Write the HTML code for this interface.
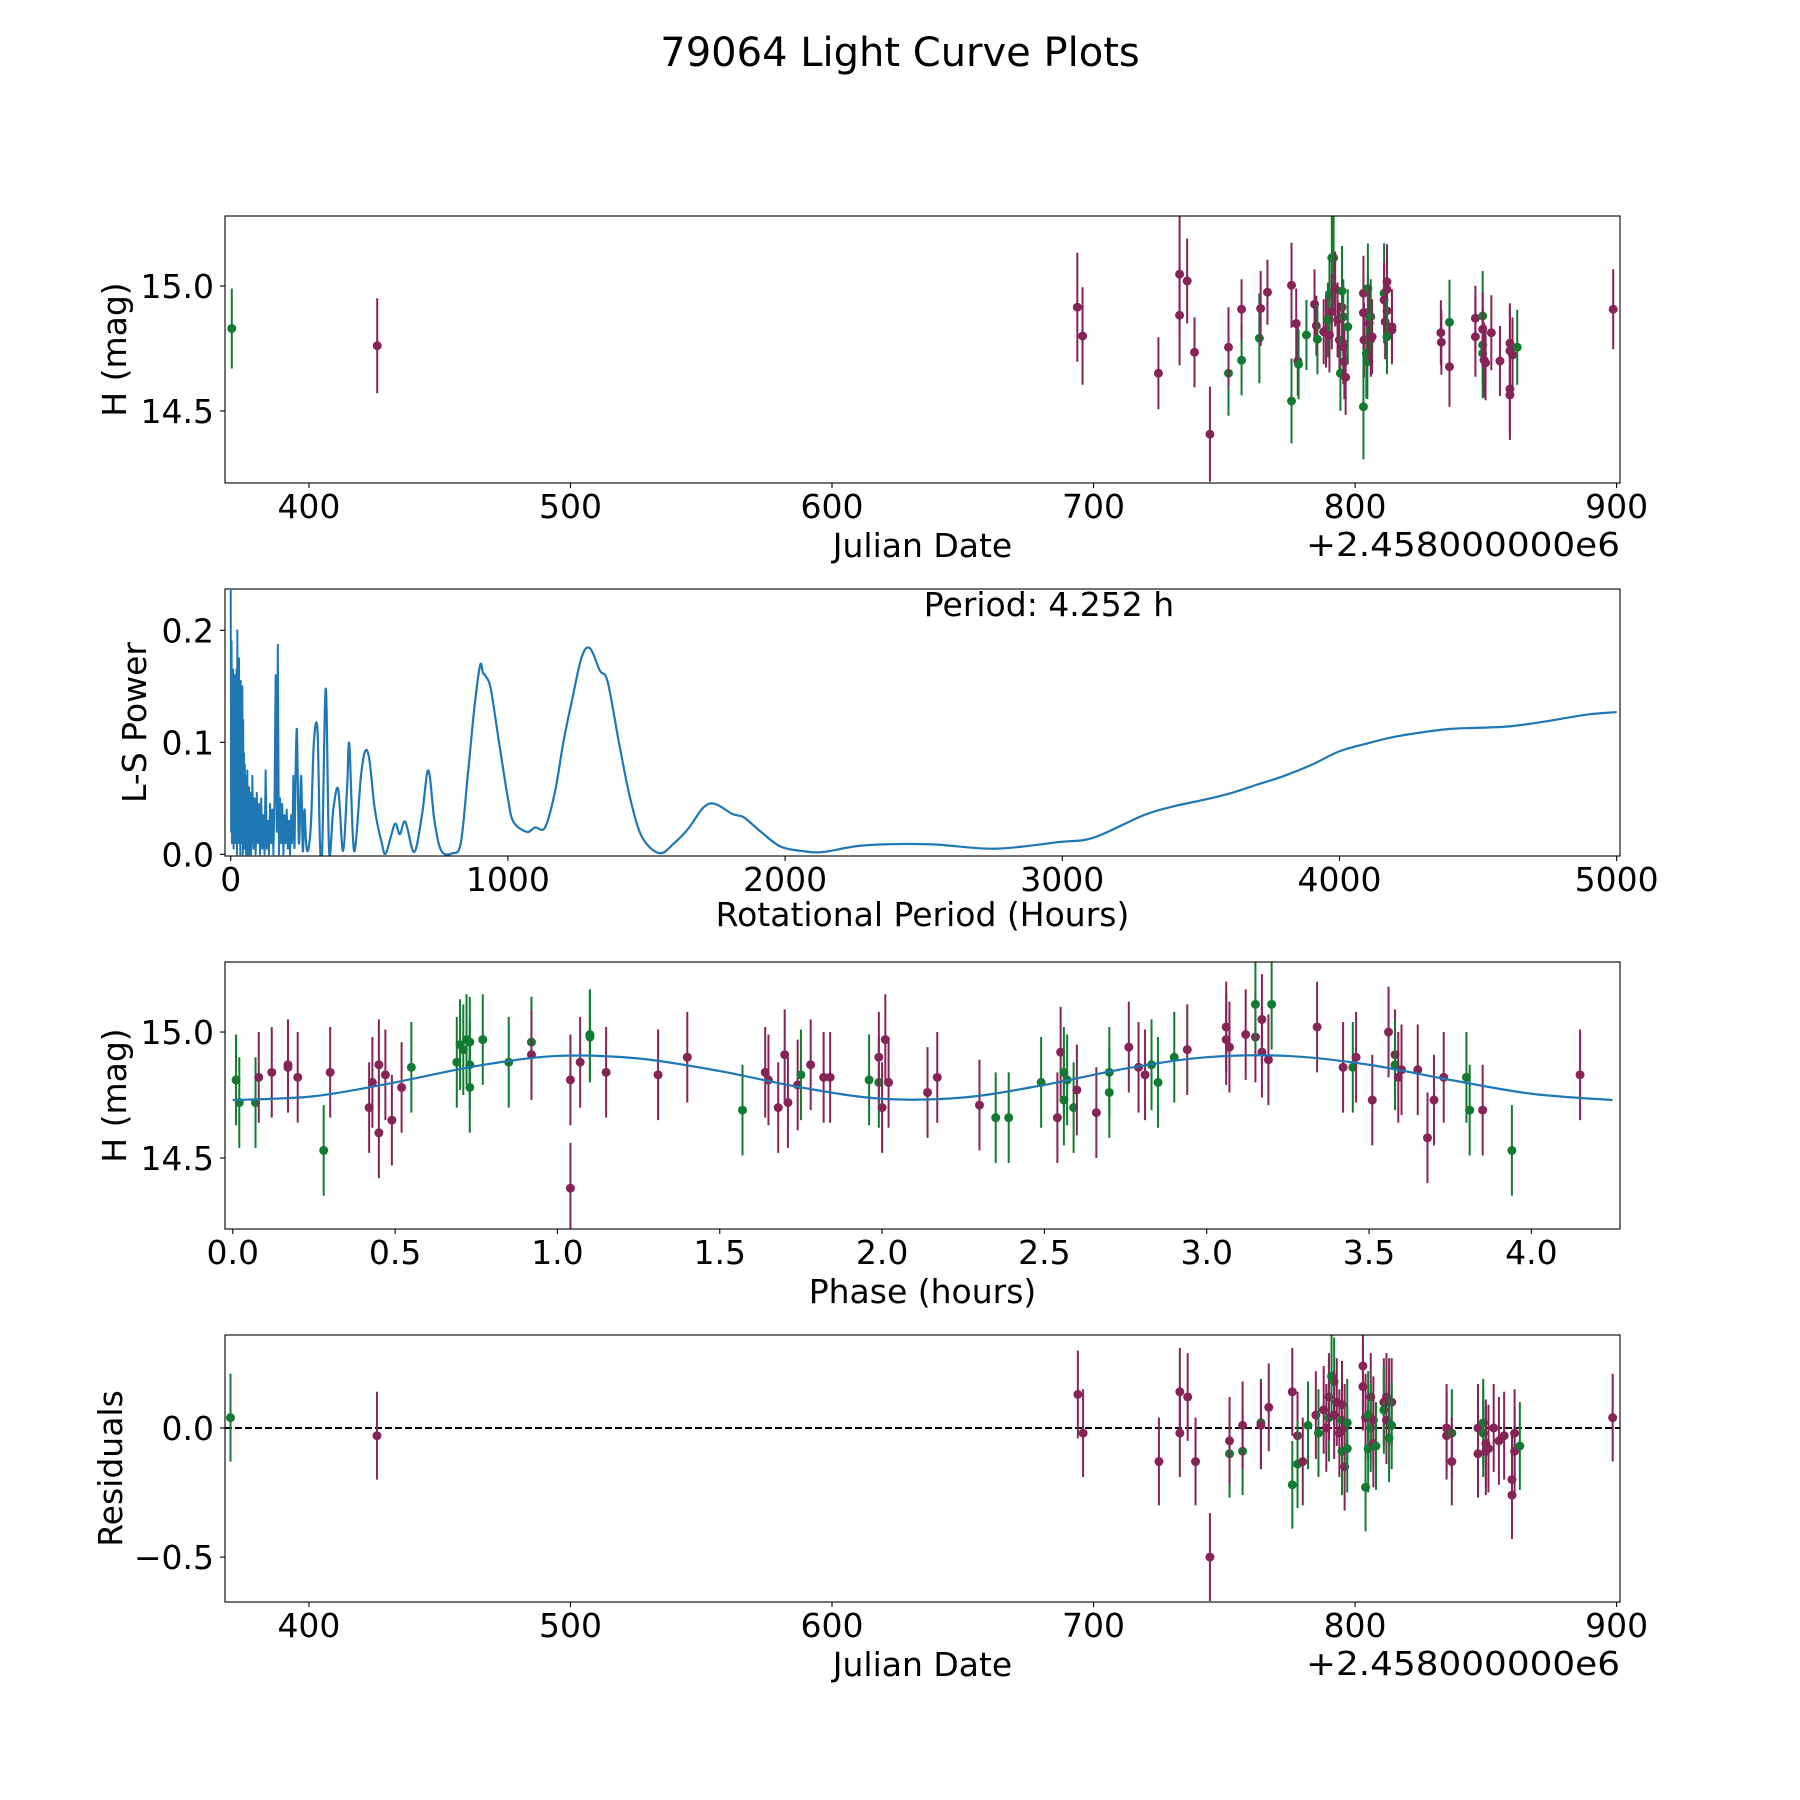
<!DOCTYPE html>
<html><head><meta charset="utf-8">
<style>
html,body{margin:0;padding:0;background:#fff}
svg{display:block}
text{font-family:"DejaVu Sans","Liberation Sans",sans-serif;fill:#000}
</style></head>
<body>
<svg id="fig" width="1800" height="1800" viewBox="0 0 1800 1800" xmlns="http://www.w3.org/2000/svg">
<rect width="1800" height="1800" fill="#fff"/>
<text x="900" y="66" font-size="40" text-anchor="middle">79064 Light Curve Plots</text>
<g id="p1"></g>
<g id="p2"></g>
<g id="p3"></g>
<g id="p4"></g>
</svg>
<script>
// ---------- Panel 1: light curve ----------
const lcDates=[370.5,426.1,693.8,695.8,724.8,732.9,732.9,735.8,738.6,744.5,751.6,751.6,756.6,756.6,763.4,763.9,766.5,775.7,775.7,777.5,778.1,778.4,781.4,784.5,785.2,785.6,788.0,788.9,789.6,790.2,790.2,791.1,791.8,791.1,792.4,793.3,794.0,794.4,795.0,795.0,795.5,795.5,795.9,796.4,797.2,803.2,803.2,803.4,803.2,804.3,804.7,804.9,804.9,805.4,806.0,806.0,806.5,811.1,811.1,812.2,812.2,812.2,811.5,812.2,814.1,814.1,832.8,833.0,836.1,836.1,846.0,846.0,848.8,848.8,848.8,848.8,849.3,849.9,852.1,855.4,859.2,859.2,859.2,859.2,860.2,862.0,898.7];
const lcMags=[14.83,14.761,14.915,14.80,14.651,15.047,14.883,15.02,14.735,14.407,14.651,14.755,14.703,14.907,14.791,14.91,14.975,15.003,14.54,14.85,14.70,14.687,14.804,14.927,14.841,14.787,14.817,14.824,14.864,14.804,14.968,15.113,15.113,14.897,14.988,14.864,14.784,14.651,14.915,14.98,14.877,14.757,14.697,14.635,14.837,14.971,14.893,14.784,14.517,14.731,14.697,14.891,14.99,14.851,14.787,14.877,14.797,14.971,14.944,15.017,14.987,14.901,14.857,14.797,14.837,14.824,14.813,14.775,14.855,14.677,14.871,14.797,14.88,14.764,14.731,14.827,14.704,14.693,14.813,14.70,14.771,14.741,14.588,14.564,14.724,14.755,14.907];
const lcErrs=[0.16,0.19,0.218,0.195,0.144,0.245,0.2,0.17,0.14,0.19,0.17,0.16,0.14,0.12,0.18,0.15,0.13,0.17,0.17,0.14,0.14,0.14,0.14,0.14,0.12,0.14,0.13,0.15,0.15,0.15,0.15,0.26,0.2,0.15,0.15,0.15,0.15,0.15,0.15,0.18,0.15,0.15,0.15,0.15,0.15,0.15,0.15,0.15,0.21,0.18,0.15,0.15,0.18,0.15,0.15,0.15,0.15,0.2,0.15,0.15,0.15,0.15,0.15,0.15,0.15,0.12,0.13,0.13,0.17,0.16,0.13,0.16,0.18,0.15,0.18,0.15,0.15,0.15,0.15,0.14,0.16,0.18,0.18,0.18,0.15,0.15,0.16];
const lcBands=["g","m","m","m","m","m","m","m","m","m","g","m","g","m","g","m","m","m","g","m","m","g","g","m","m","g","m","m","g","m","g","g","g","m","m","m","m","g","m","g","g","m","m","m","g","m","m","m","g","g","g","m","g","m","m","g","m","g","m","m","m","m","m","g","m","m","m","m","g","m","m","m","g","g","g","m","m","m","m","m","m","m","m","m","m","g","m"];
const lcXTicks=[400,500,600,700,800,900];
const lcYTicks=[14.5,15.0];
const lcYTickLabels=["14.5","15.0"];

// ---------- Panel 2: periodogram ----------
const lsPeriodsDense=[0,1.5,3,4.5,6,7.5,9,10.5,12,13.5,15,16.5,18,19.5,21,22.5,24,25.5,27,28.5,30,31.5,33,34.5,36,37.5,39,40.5,42,43.5,45,46.5,48,49.5,51,52.5,54,55.5,57,58.5,60,61.5,63,64.5,66,67.5,69,70.5,72,73.5,75,76.5,78];
const lsPowersDense=[0.236,0.02,0.19,0.01,0.16,0.03,0.165,0.005,0.16,0.04,0.155,0.01,0.16,0.02,0.165,0.0,0.2,0.03,0.15,0.01,0.175,0.02,0.145,0.0,0.155,0.03,0.13,0.01,0.15,0.0,0.12,0.02,0.09,0.005,0.08,0.02,0.07,0.0,0.06,0.01,0.075,0.0,0.05,0.015,0.06,0.0,0.045,0.01,0.055,0.0,0.04,0.01,0.07];
const lsPeriodsMid=[82,86,90,94,98,102,106,110,114,118,122,126,130,134,138,142,146,150,154,158,162,166,170,174,178,182,186,190,194,198,202,206,210,214,218,222,226,230];
const lsPowersMid=[0.005,0.05,0.0,0.055,0.01,0.045,0.0,0.05,0.005,0.035,0.0,0.075,0.005,0.03,0.0,0.045,0.01,0.04,0.0,0.05,0.16,0.02,0.187,0.0,0.05,0.01,0.045,0.0,0.035,0.01,0.04,0.005,0.03,0.0,0.035,0.01,0.07,0.005];
const lsPeriodsSmooth=[238,246,254,260,266,272,280,290,300,313,322,330,343,355,370,388,405,420,428,445,470,485,500,520,545,560,592,610,630,662,690,713,735,760,800,830,855,880,900,910,920,938,968,1000,1020,1068,1098,1134,1170,1200,1230,1266,1296,1332,1360,1402,1443,1485,1547,1600,1651,1706,1748,1810,1851,1913,1983,2060,2134,2286,2520,2755,2990,3114,3294,3404,3498,3600,3700,3800,3900,4000,4100,4200,4300,4400,4500,4600,4700,4800,4900,5000];
const lsPowersSmooth=[0.112,0.01,0.07,0.003,0.04,0.01,0.004,0.03,0.1,0.111,0.01,0.004,0.148,0.003,0.04,0.058,0.003,0.06,0.098,0.003,0.07,0.092,0.085,0.04,0.01,0.001,0.027,0.018,0.029,0.002,0.035,0.075,0.03,0.003,0.001,0.01,0.07,0.133,0.169,0.162,0.159,0.148,0.1,0.05,0.029,0.02,0.024,0.024,0.056,0.1,0.136,0.176,0.184,0.164,0.154,0.098,0.048,0.015,0.001,0.01,0.023,0.042,0.045,0.036,0.033,0.02,0.007,0.003,0.002,0.008,0.009,0.005,0.011,0.015,0.035,0.043,0.048,0.054,0.062,0.07,0.08,0.092,0.099,0.105,0.109,0.112,0.113,0.114,0.117,0.121,0.125,0.127];
const lsXTicks=[0,1000,2000,3000,4000,5000];
const lsYTicks=[0,0.1,0.2];
const lsYTickLabels=["0.0","0.1","0.2"];

// ---------- Panel 3: phase folded ----------
const phPhases=[0.01,0.02,0.07,0.08,0.12,0.17,0.17,0.2,0.28,0.3,0.42,0.43,0.45,0.45,0.47,0.49,0.52,0.55,0.69,0.7,0.71,0.72,0.73,0.73,0.73,0.77,0.85,0.92,0.92,1.04,1.04,1.07,1.1,1.1,1.15,1.31,1.4,1.57,1.64,1.65,1.68,1.7,1.71,1.74,1.75,1.78,1.82,1.84,1.96,1.99,1.99,2.0,2.01,2.02,2.14,2.17,2.3,2.35,2.39,2.49,2.54,2.55,2.56,2.56,2.57,2.59,2.6,2.66,2.7,2.7,2.76,2.79,2.81,2.83,2.85,2.9,2.94,3.06,3.06,3.07,3.12,3.15,3.15,3.17,3.17,3.19,3.2,3.34,3.42,3.45,3.46,3.51,3.56,3.58,3.58,3.59,3.6,3.65,3.68,3.7,3.73,3.8,3.81,3.85,3.94,4.15];
const phMags=[14.81,14.72,14.72,14.82,14.84,14.86,14.87,14.82,14.53,14.84,14.7,14.8,14.6,14.87,14.83,14.65,14.78,14.86,14.88,14.95,14.93,14.97,14.78,14.87,14.96,14.97,14.88,14.96,14.91,14.81,14.38,14.88,14.99,14.98,14.84,14.83,14.9,14.69,14.84,14.81,14.7,14.91,14.72,14.79,14.83,14.87,14.82,14.82,14.81,14.8,14.9,14.7,14.97,14.8,14.76,14.82,14.71,14.66,14.66,14.8,14.66,14.92,14.73,14.84,14.81,14.7,14.77,14.68,14.84,14.76,14.94,14.86,14.83,14.87,14.8,14.9,14.93,15.02,14.97,14.94,14.99,14.98,15.11,15.05,14.92,14.89,15.11,15.02,14.86,14.86,14.9,14.73,15.0,14.91,14.87,14.82,14.85,14.85,14.58,14.73,14.82,14.82,14.69,14.69,14.53,14.83];
const phBands=["g","g","g","m","m","m","m","m","g","m","m","m","m","m","m","m","m","g","g","g","g","g","g","g","g","g","g","g","m","m","m","m","g","g","m","m","m","g","m","m","m","m","m","m","g","m","m","m","g","g","m","m","m","m","m","m","m","g","g","g","m","m","g","g","g","g","m","m","g","g","m","m","m","g","g","g","m","m","m","m","m","m","g","m","m","m","g","m","m","g","m","m","m","m","g","m","m","m","m","m","m","g","g","m","g","m"];
const phErr=0.18;
const fitPhases=[0,0.25,0.5,0.75,1.0,1.25,1.5,1.75,2.0,2.25,2.5,2.75,3.0,3.25,3.5,3.75,4.0,4.25];
const fitMags=[14.73,14.745,14.80,14.865,14.905,14.895,14.845,14.78,14.735,14.74,14.79,14.855,14.9,14.905,14.87,14.81,14.755,14.73];
const phXTicks=[0,0.5,1.0,1.5,2.0,2.5,3.0,3.5,4.0];
const phXTickLabels=["0.0","0.5","1.0","1.5","2.0","2.5","3.0","3.5","4.0"];

// ---------- Panel 4: residuals ----------
const resDates=[370,426,694,696,725,733,733,736,739,744.5,752,752,757,757,764,764,767,776,776,778,778,780,782,785,786,788,789,790,790,791,792,792,793,794,795,795,795,796,796,797,797,803,803,804,804,805,805,806,806,807,807,808,811,811,812,812,813,814,813,814,835,835,837,837,847,847,849,849,850,850,851,853,855,857,860,860,861,861,863,898.5];
const resVals=[0.04,-0.03,0.13,-0.02,-0.13,0.14,-0.02,0.12,-0.13,-0.5,-0.1,-0.05,-0.09,0.01,0.02,0.01,0.08,0.14,-0.22,-0.03,-0.14,-0.13,0.01,0.05,-0.02,0.07,0.0,0.04,0.12,0.2,0.18,0.05,0.1,-0.02,0.03,-0.09,0.09,-0.15,0.0,0.02,-0.08,0.24,0.16,0.04,-0.23,0.05,-0.08,0.12,0.0,-0.06,0.03,-0.07,0.1,0.07,0.12,0.03,0.1,0.1,-0.04,0.01,-0.03,0.0,-0.02,-0.13,0.0,-0.1,0.02,-0.02,-0.06,-0.09,-0.08,0.0,-0.05,-0.03,-0.2,-0.26,-0.09,-0.02,-0.07,0.04];
const resBands=["g","m","m","m","m","m","m","m","m","m","g","m","g","m","g","m","m","m","g","m","g","m","g","m","g","m","m","g","m","g","g","m","m","m","g","g","m","m","m","g","g","m","m","m","g","g","g","m","g","m","m","g","m","g","m","m","m","m","g","g","m","m","g","m","m","m","g","g","m","m","m","m","m","m","m","m","m","m","g","m"];
const resErr=0.17;
const resYTicks=[-0.5,0.0];
const resYTickLabels=["\u22120.5","0.0"];

const NS="http://www.w3.org/2000/svg";
const COL={m:"#862457",g:"#137a31"};
function mk(parent,tag,attrs){const e=document.createElementNS(NS,tag);for(const k in attrs)e.setAttribute(k,attrs[k]);parent.appendChild(e);return e;}
const L=225,R=1620;
function axes(x0,x1,y0,y1,top,bottom){
  return {sx:v=>L+(v-x0)/(x1-x0)*(R-L), sy:v=>bottom-(v-y0)/(y1-y0)*(bottom-top), top, bottom};
}
function smoothPath(P){
  let d='M'+P[0][0].toFixed(2)+','+P[0][1].toFixed(2);
  for(let i=0;i<P.length-1;i++){
    const p0=P[Math.max(0,i-1)],p1=P[i],p2=P[i+1],p3=P[Math.min(P.length-1,i+2)];
    const c1=[p1[0]+(p2[0]-p0[0])/6,p1[1]+(p2[1]-p0[1])/6];
    const c2=[p2[0]-(p3[0]-p1[0])/6,p2[1]-(p3[1]-p1[1])/6];
    d+=`C${c1[0].toFixed(2)},${c1[1].toFixed(2)} ${c2[0].toFixed(2)},${c2[1].toFixed(2)} ${p2[0].toFixed(2)},${p2[1].toFixed(2)}`;
  }
  return d;
}
function frame(g,a,xt,xtl,yt,ytl,xlabel,ylabel,ylabelX,xlabOff){
  const f=mk(g,'rect',{x:L,y:a.top,width:R-L,height:a.bottom-a.top,fill:'none',stroke:'#000','stroke-width':1.1});
  
  
  xt.forEach((v,i)=>{
    const x=a.sx(v);
    const t=mk(g,'line',{x1:x,x2:x,y1:a.bottom,y2:a.bottom+5,stroke:'#000','stroke-width':1.1});
    
    
    const l=mk(g,'text',{x:x,y:a.bottom+35,'font-size':33,'text-anchor':'middle'});
    l.textContent=xtl[i];
    
    
  });
  yt.forEach((v,i)=>{
    const y=a.sy(v);
    const t=mk(g,'line',{x1:L-5,x2:L,y1:y,y2:y,stroke:'#000','stroke-width':1.1});
    
    
    const l=mk(g,'text',{x:L-11,y:y+12,'font-size':33,'text-anchor':'end'});
    l.textContent=ytl[i];
    
    
  });
  const xl=mk(g,'text',{x:(L+R)/2,y:a.bottom+xlabOff,'font-size':33,'text-anchor':'middle'});
  xl.textContent=xlabel;
  
  
  const cy=(a.top+a.bottom)/2;
  const yl=mk(g,'text',{x:ylabelX,y:cy,'font-size':33,'text-anchor':'middle',transform:`rotate(-90 ${ylabelX} ${cy})`});
  yl.textContent=ylabel;
  
  
}
function offsetText(g,a){
  const t=mk(g,'text',{x:R-314,y:a.bottom+73,'font-size':33,textLength:314,lengthAdjust:'spacingAndGlyphs'});
  t.textContent="+2.458000000e6";
  
  
}
function points(g,a,xs,ys,errs,bands){
  xs.forEach((xv,i)=>{
    const e=Array.isArray(errs)?errs[i]:errs;
    const c=COL[bands[i]];
    const x=a.sx(xv);
    const y1=Math.max(a.top,a.sy(ys[i]+e)), y2=Math.min(a.bottom,a.sy(ys[i]-e));
    const eb=mk(g,'line',{x1:x,x2:x,y1:y1,y2:y2,stroke:c,'stroke-width':2});
    
    
    const d=mk(g,'circle',{cx:x,cy:a.sy(ys[i]),r:4.5,fill:c});
    
    
  });
}
function clip(id,a){
  const svg=document.getElementById('fig');
  let defs=svg.querySelector('defs'); if(!defs){defs=document.createElementNS(NS,'defs');svg.insertBefore(defs,svg.firstChild);}
  const cp=mk(defs,'clipPath',{id:id});
  mk(cp,'rect',{x:L,y:a.top,width:R-L,height:a.bottom-a.top});
  return 'url(#'+id+')';
}

// Panel 1
(function(){
  const g=document.getElementById('p1');
  const a=axes(367.9,901.3,14.212,15.28,216,483);
  const pg=mk(g,'g',{'clip-path':clip('c1',a)});
  
  
  points(pg,a,lcDates,lcMags,lcErrs,lcBands);
  frame(g,a,lcXTicks,lcXTicks.map(String),lcYTicks,lcYTickLabels,"Julian Date","H (mag)",126,74);
  offsetText(g,a);
})();
// Panel 2
(function(){
  const g=document.getElementById('p2');
  const a=axes(-20.6,5012,-0.0015,0.2369,589,856);
  const cp=clip('c2',a);
  const P1=lsPeriodsDense.concat(lsPeriodsMid).map((p,i)=>[a.sx(p),a.sy(lsPowersDense.concat(lsPowersMid)[i])]);
  let d='';
  P1.forEach((p,i)=>{d+=(i?'L':'M')+p[0].toFixed(2)+','+p[1].toFixed(2);});
  const pth=mk(g,'path',{d:d,fill:'none',stroke:'#1f77b4','stroke-width':2,'stroke-linejoin':'round','clip-path':cp});
  
  
  const P2=[P1[P1.length-1]].concat(lsPeriodsSmooth.map((p,i)=>[a.sx(p),a.sy(lsPowersSmooth[i])]));
  const pth2=mk(g,'path',{d:smoothPath(P2),fill:'none',stroke:'#1f77b4','stroke-width':2.2,'clip-path':cp});
  
  
  frame(g,a,lsXTicks,lsXTicks.map(String),lsYTicks,lsYTickLabels,"Rotational Period (Hours)","L-S Power",146,70);
  const t=mk(g,'text',{x:1049,y:616,'font-size':33,'text-anchor':'middle'});
  t.textContent="Period: 4.252 h";
  
  
})();
// Panel 3
(function(){
  const g=document.getElementById('p3');
  const a=axes(-0.024,4.273,14.218,15.278,962,1229);
  const cp=clip('c3',a);
  const pg=mk(g,'g',{'clip-path':cp});
  
  
  points(pg,a,phPhases,phMags,phErr,phBands);
  const P=fitPhases.map((p,i)=>[a.sx(p),a.sy(fitMags[i])]);
  const fl=mk(g,'path',{d:smoothPath(P),fill:'none',stroke:'#1f77b4','stroke-width':2.2,'clip-path':cp});
  
  
  frame(g,a,phXTicks,phXTickLabels,lcYTicks,lcYTickLabels,"Phase (hours)","H (mag)",126,74);
})();
// Panel 4
(function(){
  const g=document.getElementById('p4');
  const a=axes(367.9,901.3,-0.674,0.36,1335,1602);
  const z=mk(g,'line',{x1:L,x2:R,y1:a.sy(0),y2:a.sy(0),stroke:'#000','stroke-width':2,'stroke-dasharray':'7,3'});
  
  
  const pg=mk(g,'g',{'clip-path':clip('c4',a)});
  
  
  points(pg,a,resDates,resVals,resErr,resBands);
  frame(g,a,lcXTicks,lcXTicks.map(String),resYTicks,resYTickLabels,"Julian Date","Residuals",122,74);
  offsetText(g,a);
})();
</script>
</body></html>
